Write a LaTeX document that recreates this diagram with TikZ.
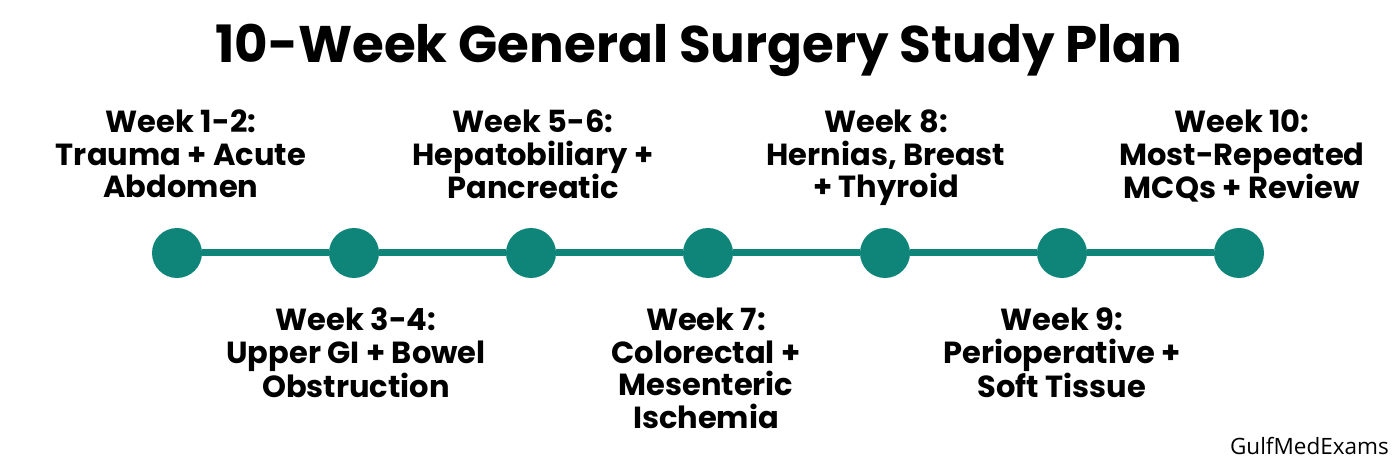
\documentclass[tikz,border=0pt]{standalone}
\usepackage{fontspec}
\setmainfont{Poppins}
\newfontfamily\markfont{Open Sans}
\definecolor{teal}{HTML}{0F857A}

\begin{document}
\begin{tikzpicture}[x=1pt,y=1pt]
	    \tikzstyle{every node}+=[inner sep=0pt]
	    \tikzstyle{dot}=[circle, fill=teal, minimum size=50pt]
	    \tikzstyle{week}=[align=center, font=\fontsize{30.5}{32.5}\selectfont\bfseries]
	    \useasboundingbox (0,0) rectangle (1400,-462);
	    \node [font=\fontsize{51.5}{56}\selectfont\bfseries] (title) at (699,-50) {10-Week General Surgery Study Plan};
	    % dots on the line
	    \node [dot] (c1) at (177,-253) {};
	    \node [dot] (c2) at (354,-253) {};
	    \node [dot] (c3) at (531,-253) {};
	    \node [dot] (c4) at (708,-253) {};
	    \node [dot] (c5) at (885,-253) {};
	    \node [dot] (c6) at (1062,-253) {};
	    \node [dot] (c7) at (1239,-253) {};
	    \draw [teal, line width=7pt] (c1) -- (c2);
	    \draw [teal, line width=7pt] (c2) -- (c3);
	    \draw [teal, line width=7pt] (c3) -- (c4);
	    \draw [teal, line width=7pt] (c4) -- (c5);
	    \draw [teal, line width=7pt] (c5) -- (c6);
	    \draw [teal, line width=7pt] (c6) -- (c7);
	    % labels above
	    \node [week, anchor=north] (l1) at (181,-110) {Week 1-2:\\Trauma + Acute\\Abdomen};
	    \node [week, anchor=north] (l3) at (533,-110) {Week 5-6:\\Hepatobiliary +\\Pancreatic};
	    \node [week, anchor=north] (l5) at (886,-110) {Week 8:\\Hernias, Breast\\+ Thyroid};
	    \node [week, anchor=north] (l7) at (1242,-110) {Week 10:\\Most-Repeated\\MCQs + Review};
	    % labels below
	    \node [week, anchor=north] (l2) at (356,-308) {Week 3-4:\\Upper GI + Bowel\\Obstruction};
	    \node [week, anchor=north] (l4) at (706,-308) {Week 7:\\Colorectal +\\Mesenteric\\Ischemia};
	    \node [week, anchor=north] (l6) at (1062,-308) {Week 9:\\Perioperative +\\Soft Tissue};
	    \node [font=\markfont\fontsize{22.5}{26}\selectfont, anchor=east] (mark) at (1389,-446) {GulfMedExams};
\end{tikzpicture}
\end{document}
